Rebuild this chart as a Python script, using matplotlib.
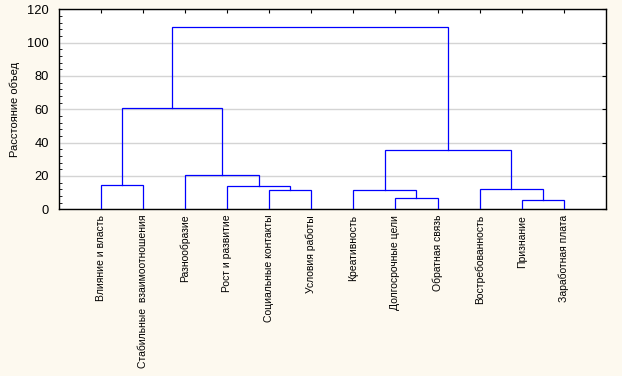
import numpy as np
import matplotlib.pyplot as plt
from matplotlib.ticker import MultipleLocator

plt.rcParams['font.family'] = ['Liberation Sans', 'DejaVu Sans']

labels = ["Влияние и власть", "Стабильные  взаимоотношения", "Разнообразие",
          "Рост и развитие", "Социальные контакты", "Условия работы",
          "Креативность", "Долгосрочные цели", "Обратная связь",
          "Востребованность", "Признание", "Заработная плата"]

# merges: (cluster a, cluster b, distance); new clusters get ids 12, 13, ...
merge_a = [10, 7, 4, 0, 6, 9, 3, 2, 16, 15, 21]
merge_b = [11, 8, 5, 1, 13, 12, 14, 18, 17, 19, 20]
merge_h = [5.4, 6.6, 11.4, 14.4, 11.4, 12.0, 13.8, 20.4, 35.4, 60.6, 109.2]

line_color = '#0000ff'
bg = '#fdf9ef'

fig = plt.figure(figsize=(6.22, 3.76), dpi=100, facecolor=bg)
ax = fig.add_axes([58.5 / 622, 1 - 209.3 / 376, (606 - 58.5) / 622, 200 / 376])
ax.set_facecolor('white')

xpos = {i: i + 1 for i in range(len(labels))}
ypos = {i: 0.0 for i in range(len(labels))}
for k, (a, b, h) in enumerate(zip(merge_a, merge_b, merge_h)):
    new = len(labels) + k
    ax.plot([xpos[a], xpos[a], xpos[b], xpos[b]], [ypos[a], h, h, ypos[b]],
            color=line_color, lw=0.9, solid_joinstyle='miter', zorder=3)
    xpos[new] = (xpos[a] + xpos[b]) / 2
    ypos[new] = h

ax.set_xlim(0, len(labels) + 1)
ax.set_ylim(0, 120)
ax.set_yticks(np.arange(0, 121, 20))
ax.yaxis.set_minor_locator(MultipleLocator(4))
ax.set_xticks(np.arange(1, len(labels) + 1))
ax.set_xticklabels(labels, rotation=90, va='top', ha='center', fontsize=7.5)
ax.tick_params(axis='x', direction='in', length=3, top=True, bottom=False, pad=4)
ax.tick_params(axis='y', which='major', direction='in', length=3, left=False,
               right=True, labelsize=9.3, pad=7)
ax.tick_params(axis='y', which='minor', direction='in', length=2, left=True)
ax.yaxis.grid(True, color='#d4d4d4', lw=1)
ax.set_axisbelow(True)
for s in ax.spines.values():
    s.set_linewidth(1)
ax.set_ylabel("Расстояние объед", fontsize=8, labelpad=5)

fig.savefig("out.png", dpi=100, facecolor=bg)
